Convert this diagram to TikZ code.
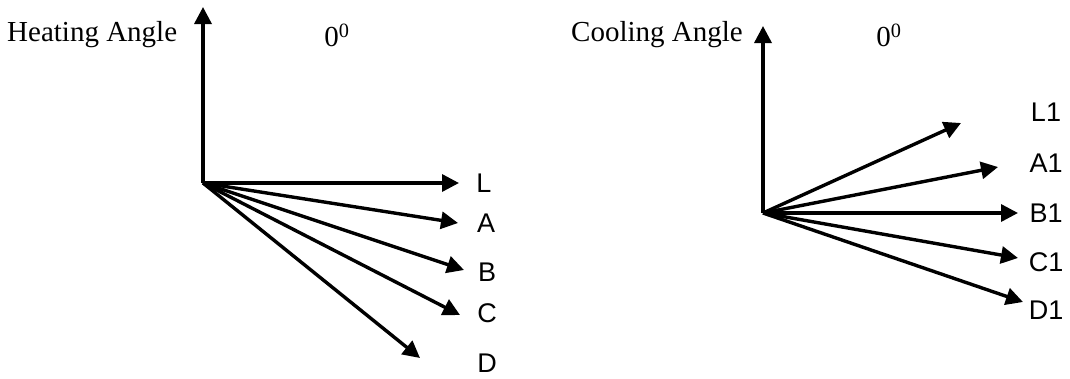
\documentclass[tikz,border=0pt]{standalone}
\usepackage{fontspec}
\setmainfont{Liberation Serif}
\newfontfamily\lab{Liberation Sans}
\usetikzlibrary{arrows.meta}
\begin{document}
\begin{tikzpicture}[x=1pt,y=-1pt,
  vec/.style={line width=3.4pt,-{Triangle[length=17pt,width=17pt]}},
  ttl/.style={font=\fontsize{29}{33}\selectfont,inner sep=0pt},
  lbl/.style={font=\lab\fontsize{27}{31}\selectfont,inner sep=0pt}]
\useasboundingbox (0,0) rectangle (1070,378);
% left diagram
\coordinate (O) at (203,183);
\coordinate (up) at (203,7);
\coordinate (tL) at (459,183);
\coordinate (tA) at (458,223);
\coordinate (tB) at (464,270);
\coordinate (tC) at (460,315);
\coordinate (tD) at (420,358);
\node[ttl,anchor=west] (h) at (7,35) {Heating Angle};
\node[ttl] (z1) at (337,35) {0\textsuperscript{0}};
\draw[vec] (O) -- (up);
\draw[vec] (O) -- (tL);
\draw[vec] (O) -- (tA);
\draw[vec] (O) -- (tB);
\draw[vec] (O) -- (tC);
\draw[vec] (O) -- (tD);
\node[lbl] (L) at (484,183) {L};
\node[lbl] (A) at (486,223) {A};
\node[lbl] (B) at (487,272) {B};
\node[lbl] (C) at (487,313) {C};
\node[lbl] (D) at (487,363) {D};
% right diagram
\coordinate (P) at (763,213);
\coordinate (up2) at (763,26);
\coordinate (tL1) at (961,123);
\coordinate (tA1) at (998,167);
\coordinate (tB1) at (1018,213);
\coordinate (tC1) at (1018,258);
\coordinate (tD1) at (1023,302);
\node[ttl,anchor=west] (c) at (571,35) {Cooling Angle};
\node[ttl] (z2) at (889,35) {0\textsuperscript{0}};
\draw[vec] (P) -- (up2);
\draw[vec] (P) -- (tL1);
\draw[vec] (P) -- (tA1);
\draw[vec] (P) -- (tB1);
\draw[vec] (P) -- (tC1);
\draw[vec] (P) -- (tD1);
\node[lbl] (L1) at (1046,112) {L1};
\node[lbl] (A1) at (1046,163) {A1};
\node[lbl] (B1) at (1046,213) {B1};
\node[lbl] (C1) at (1046,262) {C1};
\node[lbl] (D1) at (1046,310) {D1};
\end{tikzpicture}
\end{document}
